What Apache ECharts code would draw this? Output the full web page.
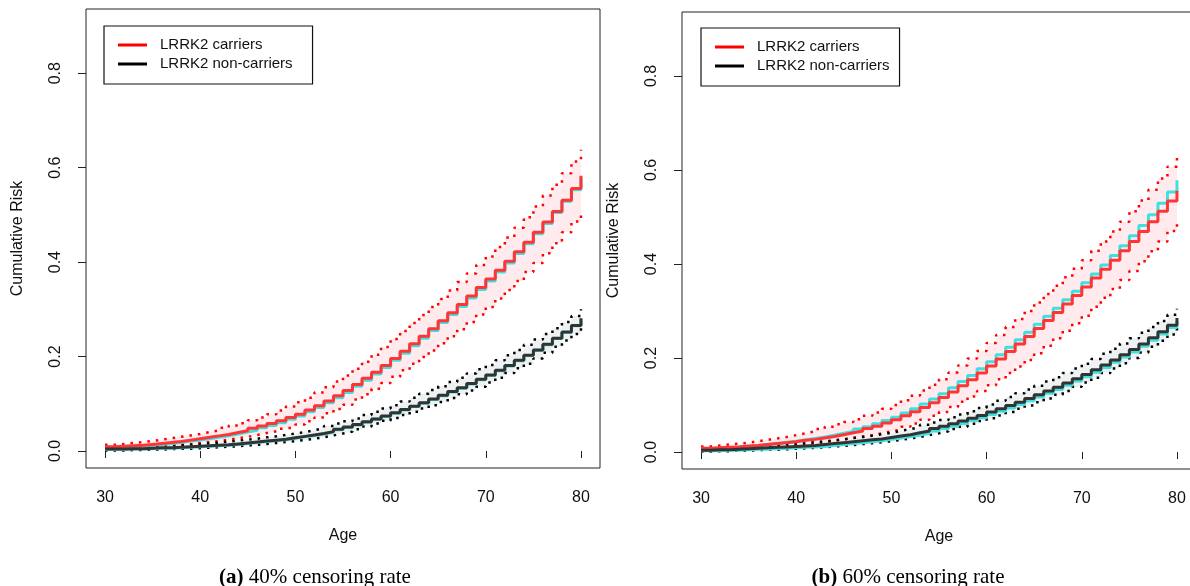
<!DOCTYPE html>
<html>
<head>
<meta charset="utf-8">
<script src="https://cdn.jsdelivr.net/npm/echarts@6/dist/echarts.min.js"></script>
<style>
html,body{margin:0;padding:0;background:#fff;}
#chart{width:1190px;height:586px;}
</style>
</head>
<body>
<div id="chart"></div>
<script>
// ---- data ----
const ages = [30,31,32,33,34,35,36,37,38,39,40,41,42,43,44,45,46,47,48,49,50,51,52,53,54,55,56,57,58,59,60,61,62,63,64,65,66,67,68,69,70,71,72,73,74,75,76,77,78,79,80];
const xTicks = [30,40,50,60,70,80];
const yTicks = [0,0.2,0.4,0.6,0.8];
const seriesNames = ['LRRK2 carriers','LRRK2 non-carriers'];
const captions = ['(a)|40% censoring rate','(b)|60% censoring rate'];

// true cumulative risk (cyan), shared by both panels
const trueCarriers = [.007,.008,.009,.011,.012,.014,.016,.018,.021,.023,.026,.029,.032,.036,.040,.044,.049,.054,.060,.067,.074,.083,.092,.102,.113,.124,.137,.150,.163,.177,.192,.207,.223,.239,.255,.272,.289,.306,.324,.342,.360,.379,.398,.418,.439,.460,.482,.505,.529,.553,.578];
const trueNonCarriers = [.003,.003,.004,.004,.005,.006,.006,.007,.008,.009,.010,.011,.012,.014,.016,.018,.020,.022,.024,.027,.030,.033,.036,.040,.045,.050,.055,.061,.067,.073,.080,.087,.094,.101,.109,.117,.125,.133,.142,.151,.160,.170,.180,.191,.202,.213,.225,.238,.251,.265,.279];

// panel (a): 40% censoring
const a_carriers = [.009,.010,.011,.012,.014,.016,.018,.020,.023,.026,.029,.032,.035,.039,.043,.048,.053,.058,.064,.071,.078,.087,.096,.106,.117,.128,.141,.154,.167,.181,.196,.211,.227,.243,.259,.276,.293,.310,.328,.346,.364,.383,.402,.422,.442,.463,.485,.507,.531,.556,.583];
const a_carriersUpper = [.013,.015,.017,.019,.021,.024,.027,.030,.033,.036,.040,.044,.049,.054,.059,.065,.071,.078,.086,.094,.103,.113,.124,.135,.147,.160,.174,.189,.204,.220,.237,.254,.271,.288,.305,.322,.340,.358,.376,.394,.412,.432,.452,.473,.495,.518,.541,.564,.588,.613,.638];
const a_carriersLower = [.005,.006,.007,.008,.009,.010,.011,.013,.015,.017,.019,.021,.024,.027,.030,.034,.038,.042,.047,.051,.056,.063,.071,.080,.089,.098,.109,.120,.132,.144,.157,.171,.185,.199,.213,.228,.243,.258,.273,.289,.305,.323,.341,.360,.379,.398,.419,.440,.463,.486,.510];
const a_nonCarriers = [.004,.004,.005,.005,.006,.007,.007,.008,.009,.010,.011,.012,.013,.015,.017,.019,.021,.023,.025,.028,.031,.034,.037,.041,.046,.051,.056,.062,.068,.074,.081,.088,.095,.102,.110,.118,.126,.134,.143,.152,.161,.171,.181,.192,.203,.214,.226,.239,.252,.266,.281];
const a_nonCarriersUpper = [.006,.007,.007,.008,.009,.010,.011,.012,.013,.015,.016,.018,.020,.022,.024,.026,.029,.031,.034,.037,.040,.044,.048,.053,.058,.063,.069,.076,.083,.090,.097,.105,.113,.121,.129,.137,.146,.155,.164,.173,.182,.192,.203,.214,.225,.236,.248,.260,.273,.286,.300];
const a_nonCarriersLower = [.001,.001,.002,.002,.003,.003,.004,.005,.005,.006,.007,.008,.009,.010,.012,.013,.015,.017,.019,.021,.023,.026,.029,.033,.037,.041,.046,.052,.058,.064,.070,.076,.083,.090,.097,.104,.112,.120,.128,.136,.145,.155,.165,.175,.185,.196,.208,.221,.234,.248,.262];

// panel (b): 60% censoring
const b_carriers = [.008,.009,.010,.011,.013,.014,.016,.018,.020,.022,.025,.027,.030,.033,.037,.041,.045,.050,.055,.062,.069,.077,.086,.095,.105,.116,.128,.141,.154,.168,.183,.198,.214,.230,.246,.263,.280,.297,.315,.333,.351,.370,.389,.408,.428,.448,.469,.490,.512,.534,.556];
const b_carriersUpper = [.012,.014,.016,.018,.020,.023,.026,.029,.032,.036,.040,.044,.049,.054,.059,.064,.070,.077,.084,.092,.100,.110,.120,.131,.143,.155,.169,.184,.199,.215,.232,.249,.266,.283,.300,.318,.336,.354,.372,.390,.408,.428,.448,.469,.490,.512,.535,.558,.582,.607,.632];
const b_carriersLower = [.004,.005,.006,.007,.008,.009,.010,.011,.013,.014,.016,.018,.021,.024,.027,.030,.033,.036,.040,.044,.048,.054,.061,.069,.077,.085,.096,.107,.118,.130,.142,.155,.168,.182,.196,.210,.226,.242,.258,.274,.290,.309,.328,.347,.366,.385,.406,.427,.448,.470,.492];
const b_nonCarriers = [.004,.005,.005,.006,.007,.008,.009,.010,.011,.012,.013,.014,.016,.018,.020,.022,.024,.026,.028,.031,.034,.037,.041,.045,.050,.055,.060,.066,.072,.078,.085,.092,.099,.106,.114,.122,.130,.138,.147,.156,.165,.175,.185,.196,.207,.218,.230,.243,.256,.270,.285];
const b_nonCarriersUpper = [.007,.008,.009,.010,.011,.012,.013,.014,.016,.017,.019,.021,.023,.025,.027,.030,.032,.035,.038,.041,.045,.049,.053,.058,.063,.068,.074,.080,.087,.094,.101,.109,.117,.125,.133,.141,.150,.159,.168,.178,.188,.198,.209,.220,.231,.242,.254,.266,.279,.292,.305];
const b_nonCarriersLower = [.001,.002,.002,.003,.003,.004,.005,.005,.006,.007,.008,.009,.010,.012,.013,.015,.017,.019,.021,.023,.026,.029,.032,.036,.040,.044,.049,.054,.060,.066,.072,.078,.085,.092,.099,.106,.114,.122,.130,.139,.148,.158,.168,.178,.189,.200,.212,.224,.237,.250,.264];

// ---- styling ----
const C_RED = '#ff3434', C_RED_PURE = '#ff0000', C_BLACK = '#333333', C_CYAN = '#40e0e0';
const C_PINK = '#ffebee', C_GREY = '#eef1f1';
const FONT = 'Liberation Sans, Arial, sans-serif';

const panels = [
  {car: a_carriers, carU: a_carriersUpper, carL: a_carriersLower, non: a_nonCarriers, nonU: a_nonCarriersUpper, nonL: a_nonCarriersLower},
  {car: b_carriers, carU: b_carriersUpper, carL: b_carriersLower, non: b_nonCarriers, nonU: b_nonCarriersUpper, nonL: b_nonCarriersLower}
];

function pts(arr){ return ages.map((a,i)=>[a, arr[i]]); }

const series = [];
panels.forEach((p, k) => {
  const ax = {xAxisIndex:k, yAxisIndex:k, type:'line', step:'end', symbol:'none', silent:true, animation:false};
  const noLine = {opacity:0, width:0};
  // bands: fill under upper bound, then mask under lower bound with white
  series.push(Object.assign({}, ax, {name:'band-cu-'+k, data:pts(p.carU), lineStyle:noLine, areaStyle:{color:C_PINK, opacity:1, origin:0}}));
  series.push(Object.assign({}, ax, {name:'band-cl-'+k, data:pts(p.carL), lineStyle:noLine, areaStyle:{color:'#ffffff', opacity:1, origin:0}}));
  series.push(Object.assign({}, ax, {name:'band-nu-'+k, data:pts(p.nonU), lineStyle:noLine, areaStyle:{color:C_GREY, opacity:1, origin:0}}));
  series.push(Object.assign({}, ax, {name:'band-nl-'+k, data:pts(p.nonL), lineStyle:noLine, areaStyle:{color:'#ffffff', opacity:1, origin:0}}));
  // dotted CI lines
  const dot = {width:2.5, type:[2.5,6], cap:'butt'};
  series.push(Object.assign({}, ax, {name:'ci-cu-'+k, data:pts(p.carU), lineStyle:Object.assign({color:C_RED_PURE}, dot)}));
  series.push(Object.assign({}, ax, {name:'ci-cl-'+k, data:pts(p.carL), lineStyle:Object.assign({color:C_RED_PURE}, dot)}));
  series.push(Object.assign({}, ax, {name:'ci-nu-'+k, data:pts(p.nonU), lineStyle:Object.assign({color:'#000'}, dot)}));
  series.push(Object.assign({}, ax, {name:'ci-nl-'+k, data:pts(p.nonL), lineStyle:Object.assign({color:'#000'}, dot)}));
  // true curves
  series.push(Object.assign({}, ax, {name:'true-c-'+k, data:pts(trueCarriers), lineStyle:{color:C_CYAN, width:3}}));
  series.push(Object.assign({}, ax, {name:'true-n-'+k, data:pts(trueNonCarriers), lineStyle:{color:C_CYAN, width:3}}));
  // estimates
  series.push(Object.assign({}, ax, {name:seriesNames[0], data:pts(p.car), color:C_RED, lineStyle:{color:C_RED, width:3}}));
  series.push(Object.assign({}, ax, {name:seriesNames[1], data:pts(p.non), color:C_BLACK, lineStyle:{color:C_BLACK, width:3}}));
});

const gridDefs = [
  {left:86, top:9, width:514, height:459},
  {left:682, top:12, width:514, height:457}
];

const grids = gridDefs.map(g => Object.assign({show:true, borderColor:'#222', borderWidth:1, backgroundColor:'transparent', outerBoundsMode:'none', containLabel:false}, g));

const xAxes = gridDefs.map((g,k)=>({
  type:'value', gridIndex:k, min:28, max:82,
  name:'Age', nameLocation:'middle', nameGap:60,
  nameTextStyle:{fontFamily:FONT, fontSize:16, color:'#111'},
  axisLine:{show:false},
  axisTick:{show:true, length:7, customValues:xTicks, lineStyle:{color:'#222', width:1}},
  axisLabel:{customValues:xTicks, margin:22, fontFamily:FONT, fontSize:16, color:'#111'},
  splitLine:{show:false}
}));

const yAxes = gridDefs.map((g,k)=>({
  type:'value', gridIndex:k, min:-0.036, max:0.936,
  name:'Cumulative Risk', nameLocation:'middle', nameGap:60, nameRotate:90,
  nameTextStyle:{fontFamily:FONT, fontSize:16, color:'#111'},
  axisLine:{show:false},
  axisTick:{show:true, length:8, customValues:yTicks, lineStyle:{color:'#222', width:1}},
  axisLabel:{customValues:yTicks, rotate:90, margin:22, fontFamily:FONT, fontSize:16, color:'#111',
    formatter: v => v.toFixed(1)},
  splitLine:{show:false}
}));

const legendPos = [
  {left:104, top:26, padding:[9.5,20,10.5,14]},
  {left:701, top:28, padding:[9.5,10,10.5,14]}
];
const legends = legendPos.map((lp,k)=>Object.assign({
  orient:'vertical', icon:'rect', itemWidth:29, itemHeight:3, itemGap:0,
  borderColor:'#111', borderWidth:1.2, backgroundColor:'#fff',
  selectedMode:false,
  data:[{name:seriesNames[0], itemStyle:{color:C_RED_PURE}}, {name:seriesNames[1], itemStyle:{color:'#000'}}],
  textStyle:{fontFamily:FONT, fontSize:15, lineHeight:19, color:'#111', padding:[0,0,0,8]}
}, lp));

const titles = captions.map((c,k)=>{
  const parts = c.split('|');
  return {
    text:'{b|'+parts[0]+'} '+parts[1],
    left:[310,903][k], top:562, textAlign:'center',
    textStyle:{fontFamily:'Liberation Serif, Times New Roman, serif', fontSize:21, fontWeight:'normal', color:'#000',
      rich:{b:{fontFamily:'Liberation Serif, Times New Roman, serif', fontSize:21, fontWeight:'bold', color:'#000'}}}
  };
});

const chart = echarts.init(document.getElementById('chart'), null, {renderer:'canvas'});
chart.setOption({
  animation:false,
  backgroundColor:'#fff',
  title:titles,
  legend:legends,
  grid:grids,
  xAxis:xAxes,
  yAxis:yAxes,
  series:series
});
</script>
</body>
</html>
